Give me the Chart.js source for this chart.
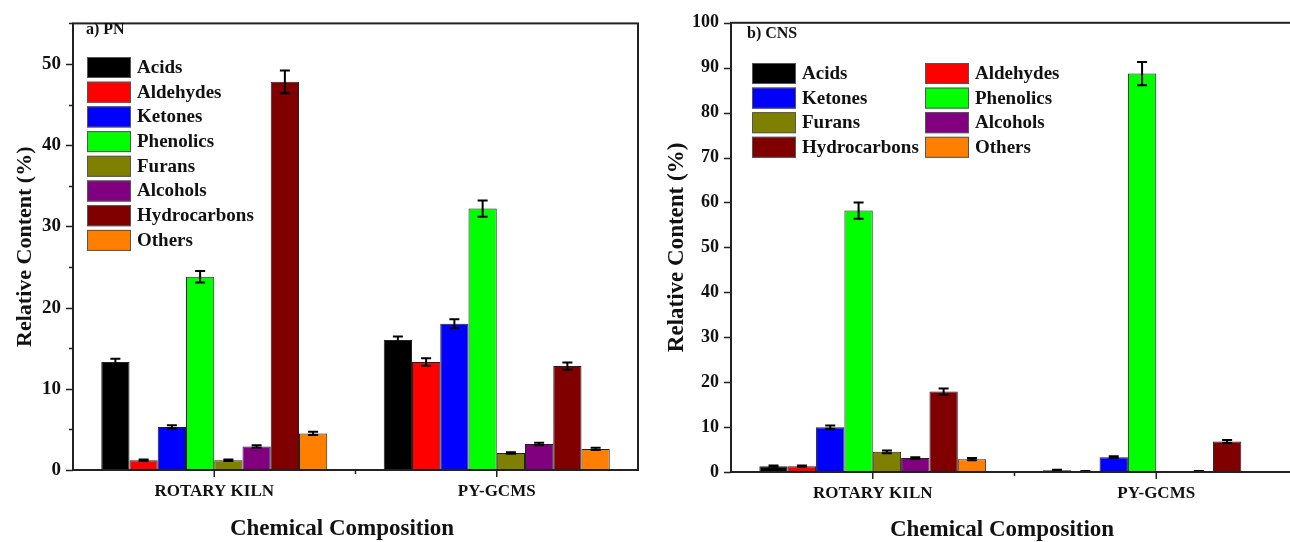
<!DOCTYPE html>
<html>
<head>
<meta charset="utf-8">
<script src="https://cdn.jsdelivr.net/npm/chart.js@4.4.1/dist/chart.umd.min.js"></script>
<style>
body { margin: 0; width: 1290px; height: 542px; overflow: hidden; background: #fff; position: relative; }
canvas { position: absolute; top: 0; }
#pnChart { left: 0; }
#cnsChart { left: 650px; }
</style>
</head>
<body>
<canvas id="pnChart" width="650" height="542"></canvas>
<canvas id="cnsChart" width="660" height="542"></canvas>
<script>
const categories = ['ROTARY KILN', 'PY-GCMS'];
const compounds = ['Acids', 'Aldehydes', 'Ketones', 'Phenolics', 'Furans', 'Alcohols', 'Hydrocarbons', 'Others'];

// a) PN - relative content (%) and error
const pnRotaryKiln    = [13.3, 1.2, 5.3, 23.8, 1.2, 2.9, 47.8, 4.5];
const pnRotaryKilnErr = [0.4, 0.1, 0.2, 0.7, 0.1, 0.15, 1.4, 0.2];
const pnPyGcms        = [16.0, 13.3, 18.0, 32.2, 2.1, 3.2, 12.8, 2.6];
const pnPyGcmsErr     = [0.45, 0.45, 0.55, 1.0, 0.1, 0.15, 0.45, 0.15];

// b) CNS
const cnsRotaryKiln    = [1.3, 1.3, 9.95, 58.2, 4.5, 3.1, 17.9, 2.85];
const cnsRotaryKilnErr = [0.15, 0.15, 0.4, 1.8, 0.3, 0.2, 0.7, 0.25];
const cnsPyGcms        = [0.4, 0.2, 3.3, 88.7, 0, 0.15, 6.8, 0];
const cnsPyGcmsErr     = [0.1, 0.05, 0.2, 2.6, 0, 0.05, 0.35, 0];

const seriesColors = ['#000000', '#ff0000', '#0000ff', '#00ff00', '#808000', '#800080', '#800000', '#ff8000'];
const serif = "'Liberation Serif', 'Times New Roman', serif";

// error bars, frame, ticks, legend, labels
const panelDecor = {
    id: 'panelDecor',
    afterDatasetsDraw(chart, args, opts) {
        const ctx = chart.ctx;
        const ys = chart.scales.y;
        ctx.save();
        ctx.strokeStyle = '#000';
        ctx.lineWidth = 2;
        chart.data.datasets.forEach((ds, i) => {
            const meta = chart.getDatasetMeta(i);
            meta.data.forEach((bar, j) => {
                const e = ds.errors[j];
                if (!e) return;
                const v = ds.data[j];
                const y1 = ys.getPixelForValue(v + e);
                const y2 = ys.getPixelForValue(v - e);
                ctx.beginPath();
                ctx.moveTo(bar.x, y1); ctx.lineTo(bar.x, y2);
                ctx.moveTo(bar.x - 5, y1); ctx.lineTo(bar.x + 5, y1);
                ctx.moveTo(bar.x - 5, y2); ctx.lineTo(bar.x + 5, y2);
                ctx.stroke();
            });
        });
        ctx.restore();
    },
    afterDraw(chart, args, opts) {
        const ctx = chart.ctx;
        const {left, right, top, bottom} = chart.chartArea;
        const xs = chart.scales.x, ys = chart.scales.y;
        ctx.save();
        // frame
        ctx.strokeStyle = '#222';
        ctx.lineWidth = 2;
        ctx.strokeRect(left, top, right - left, bottom - top);
        // y ticks (outward)
        ctx.lineWidth = 1.5;
        ctx.beginPath();
        ys.ticks.forEach(t => {
            const py = Math.round(ys.getPixelForValue(t.value)) + 0.5;
            const len = t.value % 10 === 0 ? 7 : 4;
            ctx.moveTo(left - len, py); ctx.lineTo(left, py);
        });
        // x ticks
        for (let i = 0; i < categories.length; i++) {
            const px = xs.getPixelForValue(i);
            ctx.moveTo(px, bottom); ctx.lineTo(px, bottom + 7);
            if (i > 0) {
                const mid = (px + xs.getPixelForValue(i - 1)) / 2;
                ctx.moveTo(mid, bottom); ctx.lineTo(mid, bottom + 4);
            }
        }
        ctx.stroke();

        // legend
        ctx.font = 'bold 19px ' + serif;
        ctx.textBaseline = 'middle';
        ctx.textAlign = 'left';
        chart.data.datasets.forEach((ds, i) => {
            const col = i % opts.cols, row = Math.floor(i / opts.cols);
            const bx = opts.legendX + col * opts.colWidth;
            const by = opts.legendY + row * opts.rowHeight;
            ctx.fillStyle = ds.backgroundColor;
            ctx.fillRect(bx, by, 44, 21);
            ctx.strokeStyle = '#555';
            ctx.lineWidth = 1;
            ctx.strokeRect(bx + 0.5, by + 0.5, 43, 20);
            ctx.fillStyle = '#111';
            ctx.fillText(ds.label, bx + 50, by + 11);
        });

        // panel label
        ctx.font = 'bold 16px ' + serif;
        ctx.fillStyle = '#111';
        ctx.fillText(opts.panelLabel, opts.panelX, opts.panelY);

        // x axis title
        ctx.font = 'bold 23px ' + serif;
        ctx.textAlign = 'center';
        ctx.fillText('Chemical Composition', opts.xTitleX, opts.xTitleY);
        ctx.restore();
    }
};

function makeChart(id, rk, rkErr, py, pyErr, cfg) {
    const ctx = document.getElementById(id).getContext('2d');
    const datasets = compounds.map((name, i) => ({
        label: name,
        data: [rk[i], py[i]],
        errors: [rkErr[i], pyErr[i]],
        backgroundColor: seriesColors[i],
        borderColor: '#222',
        borderWidth: 1,
        categoryPercentage: 0.8,
        barPercentage: 1.0
    }));
    return new Chart(ctx, {
        type: 'bar',
        data: { labels: categories, datasets: datasets },
        options: {
            responsive: false,
            animation: false,
            layout: { padding: { left: 0, top: cfg.top, right: cfg.right, bottom: 0 } },
            plugins: {
                legend: { display: false },
                tooltip: { enabled: false },
                panelDecor: cfg.decor
            },
            scales: {
                x: {
                    grid: { display: false, drawTicks: false },
                    border: { display: false },
                    ticks: {
                        padding: 11,
                        color: '#111',
                        font: { family: serif, size: 17, weight: 'bold' }
                    },
                    afterFit: s => { s.height = cfg.xHeight; }
                },
                y: {
                    min: 0,
                    max: cfg.yMax,
                    grid: { display: false, drawTicks: false },
                    border: { display: false },
                    ticks: {
                        stepSize: 5,
                        padding: 12,
                        color: '#111',
                        font: { family: serif, size: cfg.tickSize, weight: 'bold' },
                        callback: v => (v % 10 === 0 ? v : '')
                    },
                    title: {
                        display: true,
                        text: 'Relative Content (%)',
                        color: '#111',
                        padding: { top: cfg.yTitlePad, bottom: 0 },
                        font: { family: serif, size: cfg.yTitleSize, weight: 'bold' }
                    },
                    afterFit: s => { s.width = cfg.yWidth; }
                }
            }
        },
        plugins: [panelDecor]
    });
}

makeChart('pnChart', pnRotaryKiln, pnRotaryKilnErr, pnPyGcms, pnPyGcmsErr, {
    top: 13, right: 12, xHeight: 72, yWidth: 73, yMax: 55, yTitlePad: 12, yTitleSize: 22, tickSize: 19,
    decor: { cols: 1, colWidth: 0, legendX: 87, legendY: 57, rowHeight: 24.7,
             panelLabel: 'a) PN', panelX: 86, panelY: 30, xTitleX: 342, xTitleY: 529 }
});

makeChart('cnsChart', cnsRotaryKiln, cnsRotaryKilnErr, cnsPyGcms, cnsPyGcmsErr, {
    top: 17, right: 12, xHeight: 70, yWidth: 81, yMax: 100, yTitlePad: 13, yTitleSize: 23, tickSize: 18,
    decor: { cols: 2, colWidth: 173, legendX: 102, legendY: 63, rowHeight: 24.6,
             panelLabel: 'b) CNS', panelX: 97, panelY: 34, xTitleX: 352, xTitleY: 530 }
});
</script>
</body>
</html>
